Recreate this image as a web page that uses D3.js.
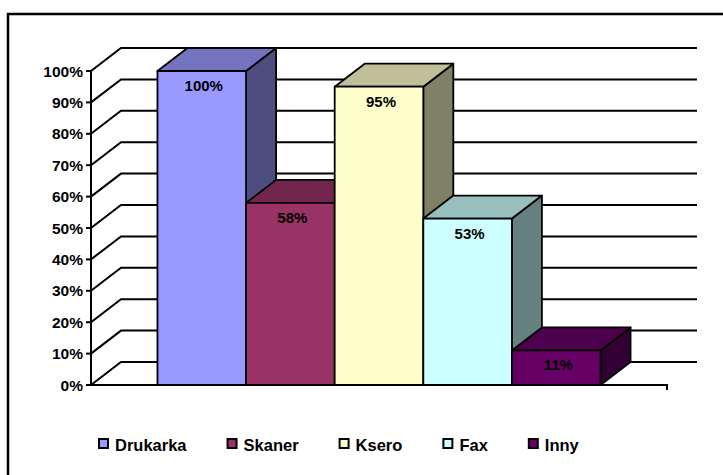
<!DOCTYPE html>
<html>
<head>
<meta charset="utf-8">
<script src="https://cdn.jsdelivr.net/npm/d3@7"></script>
<style>
  body { margin: 0; background: #fff; }
  text { font-family: "Liberation Sans", Arial, sans-serif; font-weight: bold; fill: #000; }
</style>
</head>
<body>
<svg id="chart" width="723" height="475"></svg>
<script>
const series = ["Drukarka", "Skaner", "Ksero", "Fax", "Inny"];
const values = [1.00, 0.58, 0.95, 0.53, 0.11];
const labels = ["100%", "58%", "95%", "53%", "11%"];
const colors = ["#9999FF", "#993366", "#FFFFCC", "#CCFFFF", "#660066"];
const ticks = [0, 0.1, 0.2, 0.3, 0.4, 0.5, 0.6, 0.7, 0.8, 0.9, 1.0];

const svg = d3.select("#chart");
const dx = 30, dy = -23; // 3d depth
const x0 = 91, x1 = 667;

const y = d3.scaleLinear().domain([0, 1]).range([385, 71]);
const x = d3.scaleBand().domain(series).range([x0, x1])
  .paddingInner(0).paddingOuter(0.75);

const shade = (c, k) => {
  const r = d3.rgb(c);
  return d3.rgb(r.r * k, r.g * k, r.b * k).formatHex();
};

// outer frame (cut off by the picture edge)
svg.append("path")
  .attr("d", "M8,475V14H723")
  .attr("fill", "none").attr("stroke", "#000").attr("stroke-width", 2.5);

// walls: gridlines on the back wall and side wall
const grid = svg.append("g").attr("fill", "none").attr("stroke", "#000").attr("stroke-width", 2);
ticks.forEach(t => {
  grid.append("path")
    .attr("d", `M${x0},${y(t)}L${x0 + dx},${y(t) + dy}H${x1 + dx}`);
});

// front axis and floor edge
grid.append("path").attr("d", `M${x0},${y(0)}V${y(1)}`);
grid.append("path").attr("d", `M${x0},${y(0)}H${x1}V${y(0) + 5}`);

const axis = svg.append("g");
ticks.forEach(t => {
  axis.append("line")
    .attr("x1", x0 - 5).attr("x2", x0)
    .attr("y1", y(t)).attr("y2", y(t))
    .attr("stroke", "#000").attr("stroke-width", 2);
  axis.append("text")
    .attr("x", x0 - 8).attr("y", y(t))
    .attr("dy", "0.36em")
    .attr("text-anchor", "end")
    .style("font-size", "15.5px")
    .text(d3.format(".0%")(t));
});

// bars, left to right so later ones cover earlier side faces
const bars = svg.append("g").attr("stroke", "#000").attr("stroke-width", 1.8)
  .attr("stroke-linejoin", "round");
series.forEach((s, i) => {
  const bx = x(s), bw = x.bandwidth();
  const top = y(values[i]), base = y(0);
  const g = bars.append("g");
  // side
  g.append("path")
    .attr("d", `M${bx + bw},${base}L${bx + bw + dx},${base + dy}V${top + dy}L${bx + bw},${top}Z`)
    .attr("fill", shade(colors[i], 0.5));
  // top
  g.append("path")
    .attr("d", `M${bx},${top}L${bx + dx},${top + dy}H${bx + bw + dx}L${bx + bw},${top}Z`)
    .attr("fill", shade(colors[i], 0.75));
  // front
  g.append("rect")
    .attr("x", bx).attr("y", top)
    .attr("width", bw).attr("height", base - top)
    .attr("fill", colors[i]);
  svg.append("text")
    .attr("x", bx + bw / 2 + 2).attr("y", top + 20)
    .attr("text-anchor", "middle")
    .style("font-size", "15px")
    .text(labels[i]);
});

// legend
const legend = svg.append("g");
let lx = 99;
series.forEach((s, i) => {
  legend.append("rect")
    .attr("x", lx).attr("y", 439)
    .attr("width", 9).attr("height", 9)
    .attr("fill", colors[i])
    .attr("stroke", "#000").attr("stroke-width", 2);
  const t = legend.append("text")
    .attr("x", lx + 16).attr("y", 450.5)
    .style("font-size", "16.5px")
    .text(s);
  lx += 16 + t.node().getComputedTextLength() + 41;
});
</script>
</body>
</html>
